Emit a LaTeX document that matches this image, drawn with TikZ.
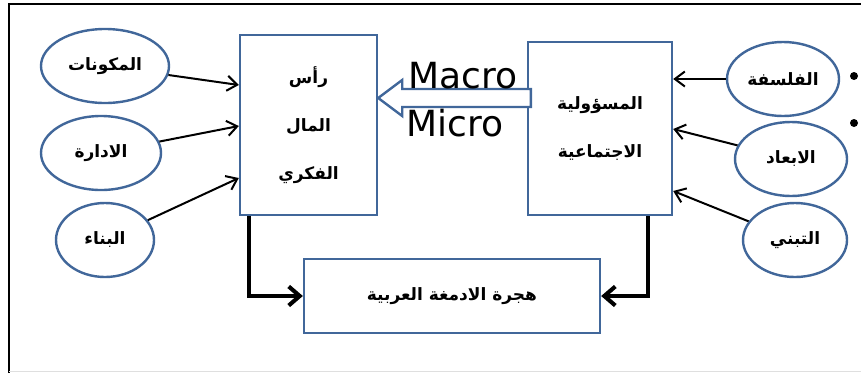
\documentclass[tikz,border=0pt]{standalone}
\usepackage{fontspec}
\setmainfont{DejaVu Sans}
\newfontfamily\arabicfont[Script=Arabic]{DejaVu Sans}
\TeXXeTstate=1
\usetikzlibrary{arrows.meta,shapes.geometric,positioning}
\definecolor{boxblue}{HTML}{41679A}
\tikzstyle{oval} = [draw=boxblue, ellipse, line width=2.4pt, inner sep=0pt, minimum height=74pt, font=\arabicfont\bfseries\fontsize{17}{19}\selectfont]
\tikzstyle{block} = [draw=boxblue, rectangle, line width=2.4pt, align=center, font=\arabicfont\bfseries\fontsize{17}{48}\selectfont]
\tikzstyle{thinline} = [-{Straight Barb[length=10pt, width=15pt, line width=2pt]}, line width=2pt]
\tikzstyle{thickline} = [-{Straight Barb[length=11pt, width=19pt]}, line width=4pt]
\tikzstyle{bigtext} = [font=\fontsize{36}{40}\selectfont, inner sep=0pt]

\begin{document}
\begin{tikzpicture}[x=1pt, y=1pt]
\useasboundingbox (0,0) rectangle (861,-373);

% frame
\draw [line width=1.4pt] (9,-373) -- (9,-4) -- (861,-4);
\draw [gray!25, line width=1pt] (9,-371) -- (861,-371);

% left side
\node [oval, minimum width=128pt] (mukawinat) at (105,-66) {\beginR المكونات\endR};
\node [oval, minimum width=120pt] (idara) at (101,-153) {\beginR الادارة\endR};
\node [oval, minimum width=98pt] (binaa) at (105,-240) {\beginR البناء\endR};
\node [block, minimum width=137pt, minimum height=180pt] (rasmal) at (308.5,-125) {\beginR رأس\endR\\\beginR المال\endR\\\beginR الفكري\endR};

% right side
\node [oval, minimum width=112pt] (falsafa) at (783,-79) {\beginR الفلسفة\endR};
\node [oval, minimum width=112pt] (abaad) at (791,-159) {\beginR الابعاد\endR};
\node [oval, minimum width=104pt] (tabanni) at (795,-240) {\beginR التبني\endR};
\node [block, minimum width=144pt, minimum height=173pt] (csr) at (600,-128.5) {\beginR المسؤولية\endR\\\beginR الاجتماعية\endR};

\node [block, minimum width=296pt, minimum height=74pt] (hijra) at (452,-296) {\beginR هجرة الادمغة العربية\endR};

\node [circle, fill=black, inner sep=0pt, minimum size=8pt] (bulleta) at (854,-76) {};
\node [circle, fill=black, inner sep=0pt, minimum size=8pt] (bulletb) at (854,-123) {};

% thin arrows
\draw [thinline] (mukawinat) -- ([yshift=40]rasmal.west);
\draw [thinline] (idara) -- ([yshift=-1]rasmal.west);
\draw [thinline] (binaa) -- ([yshift=-53]rasmal.west);
\draw [thinline] (falsafa) -- ([yshift=49.5]csr.east);
\draw [thinline] (abaad) -- ([yshift=-0.5]csr.east);
\draw [thinline] (tabanni) -- ([yshift=-62.5]csr.east);

% thick arrows with shadow
\draw [thickline, black!25, shift={(2,-2)}] ([xshift=-59.5]rasmal.south) |- (hijra.west);
\draw [thickline, black!25, shift={(2,-2)}] ([xshift=48]csr.south) |- (hijra.east);
\draw [thickline] ([xshift=-59.5]rasmal.south) |- (hijra.west);
\draw [thickline] ([xshift=48]csr.south) |- (hijra.east);

% block arrow
\draw [boxblue, fill=white, line width=2.4pt] ([yshift=27]rasmal.east) -- ++(24,18) -- ++(0,-9) -- ([xshift=4,yshift=39.5]csr.west) -- ([xshift=4,yshift=21.5]csr.west) -- ([xshift=24,yshift=18]rasmal.east) -- ++(0,-9) -- cycle;
\node [bigtext] (macro) at (463,-76) {Macro};
\node [bigtext] (micro) at (455,-123) {Micro};

\end{tikzpicture}
\end{document}
